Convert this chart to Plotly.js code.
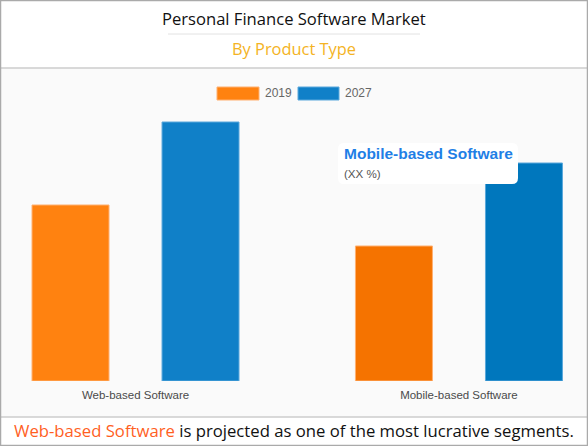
<!DOCTYPE html>
<html>
<head>
<meta charset="utf-8">
<script src="https://cdn.plot.ly/plotly-3.0.1.min.js"></script>
<style>
  html, body { margin: 0; padding: 0; background: #fff; }
  #chart { width: 588px; height: 446px; }
</style>
</head>
<body>
<div id="chart"></div>
<script>
// chart data
const categories = ['Web-based Software', 'Mobile-based Software'];
const seriesNames = ['2019', '2027'];
const values2019 = [176, 135];
const values2027 = [259, 218];

const W = 588, PLOT_TOP = 81, PLOT_BOTTOM = 381;
const PH = PLOT_BOTTOM - PLOT_TOP;
// pixel -> paper helpers for the decorations around the plot
const px = x => x / W;
const py = y => (PLOT_BOTTOM - y) / PH;

function roundRect(x0, y0, x1, y1, r) {
  const X = px, Y = py;
  return 'M' + X(x0 + r) + ',' + Y(y0) +
    ' L' + X(x1 - r) + ',' + Y(y0) +
    ' Q' + X(x1) + ',' + Y(y0) + ' ' + X(x1) + ',' + Y(y0 + r) +
    ' L' + X(x1) + ',' + Y(y1 - r) +
    ' Q' + X(x1) + ',' + Y(y1) + ' ' + X(x1 - r) + ',' + Y(y1) +
    ' L' + X(x0 + r) + ',' + Y(y1) +
    ' Q' + X(x0) + ',' + Y(y1) + ' ' + X(x0) + ',' + Y(y1 - r) +
    ' L' + X(x0) + ',' + Y(y0 + r) +
    ' Q' + X(x0) + ',' + Y(y0) + ' ' + X(x0 + r) + ',' + Y(y0) + ' Z';
}

const traces = [
  {
    x: categories, y: values2019, name: seriesNames[0], type: 'bar',
    marker: { color: ['#ff8210', '#f57300'], line: { color: '#ffb070', width: 1 } },
    hoverinfo: 'x+y+name'
  },
  {
    x: categories, y: values2027, name: seriesNames[1], type: 'bar',
    marker: { color: ['#1080c8', '#0077bd'], line: { color: '#5aa8dc', width: 1 } },
    hoverinfo: 'x+y+name'
  }
];

const font = 'Arial, "Liberation Sans", sans-serif';
const headFont = '"Open Sans", "Noto Sans", sans-serif';

const layout = {
  width: 588, height: 446,
  margin: { l: 0, r: 0, t: PLOT_TOP, b: 446 - PLOT_BOTTOM, pad: 0 },
  paper_bgcolor: '#ffffff',
  plot_bgcolor: 'rgba(0,0,0,0)',
  showlegend: false,
  barmode: 'group',
  bargap: 0.196,
  bargroupgap: 0.408,
  xaxis: {
    range: [-0.419, 1.399],
    showgrid: false, zeroline: false, showline: false, ticks: '',
    tickfont: { family: font, size: 11.5, color: '#4a4a4a' },
    ticklabelstandoff: 5,
    fixedrange: true
  },
  yaxis: {
    range: [0, 300],
    visible: false, showgrid: false, zeroline: false, fixedrange: true
  },
  shapes: [
    // light body background
    { type: 'rect', xref: 'paper', yref: 'paper', layer: 'below',
      x0: 0, x1: 1, y0: py(417), y1: py(68),
      fillcolor: '#fafafa', line: { width: 0 } },
    // header and footer separators
    { type: 'line', xref: 'paper', yref: 'paper', x0: 0, x1: 1, y0: py(68), y1: py(68),
      line: { color: '#cccccc', width: 1.5 } },
    { type: 'line', xref: 'paper', yref: 'paper', x0: 0, x1: 1, y0: py(417), y1: py(417),
      line: { color: '#cccccc', width: 1.5 } },
    { type: 'line', xref: 'paper', yref: 'paper', x0: px(168), x1: px(420), y0: py(34), y1: py(34),
      line: { color: '#e2e2e2', width: 1 } },
    // legend swatches
    { type: 'rect', xref: 'paper', yref: 'paper', x0: px(217), x1: px(259), y0: py(100), y1: py(87),
      fillcolor: '#ff8210', line: { color: '#ffb070', width: 1 } },
    { type: 'rect', xref: 'paper', yref: 'paper', x0: px(298), x1: px(339), y0: py(100), y1: py(87),
      fillcolor: '#1080c8', line: { color: '#5aa8dc', width: 1 } },
    // callout box
    { type: 'path', xref: 'paper', yref: 'paper', layer: 'above',
      path: roundRect(338, 143, 518, 184, 6),
      fillcolor: '#ffffff', line: { width: 0 } },
    // outer frame
    { type: 'rect', xref: 'paper', yref: 'paper', x0: 0, x1: 1, y0: py(446), y1: py(0),
      line: { color: '#aaaaaa', width: 2.5 }, fillcolor: 'rgba(0,0,0,0)' }
  ],
  annotations: [
    { text: 'Personal Finance Software Market', xref: 'paper', yref: 'paper',
      x: 0.5, y: py(18), xanchor: 'center', yanchor: 'middle', showarrow: false,
      font: { family: headFont, size: 16.6, color: '#111' } },
    { text: 'By Product Type', xref: 'paper', yref: 'paper',
      x: 0.5, y: py(49), xanchor: 'center', yanchor: 'middle', showarrow: false,
      font: { family: headFont, size: 16.4, color: '#f4b324' } },
    { text: seriesNames[0], xref: 'paper', yref: 'paper',
      x: px(263), y: py(93.5), xanchor: 'left', yanchor: 'middle', showarrow: false,
      font: { family: font, size: 12, color: '#666' } },
    { text: seriesNames[1], xref: 'paper', yref: 'paper',
      x: px(343), y: py(93.5), xanchor: 'left', yanchor: 'middle', showarrow: false,
      font: { family: font, size: 12, color: '#666' } },
    { text: '<b>' + categories[1] + '</b>', xref: 'paper', yref: 'paper',
      x: px(342), y: py(153.5), xanchor: 'left', yanchor: 'middle', showarrow: false,
      font: { family: font, size: 15.5, color: '#1f7fe6' } },
    { text: '(XX %)', xref: 'paper', yref: 'paper',
      x: px(342), y: py(173), xanchor: 'left', yanchor: 'middle', showarrow: false,
      font: { family: font, size: 11.6, color: '#555' } },
    { text: '<span style="color:#ff5f1f">' + categories[0] + '</span> is projected as one of the most lucrative segments.',
      xref: 'paper', yref: 'paper',
      x: 0.5, y: py(430), xanchor: 'center', yanchor: 'middle', showarrow: false,
      font: { family: headFont, size: 16.7, color: '#111' } }
  ]
};

Plotly.newPlot('chart', traces, layout, { displayModeBar: false, staticPlot: true });
</script>
</body>
</html>
